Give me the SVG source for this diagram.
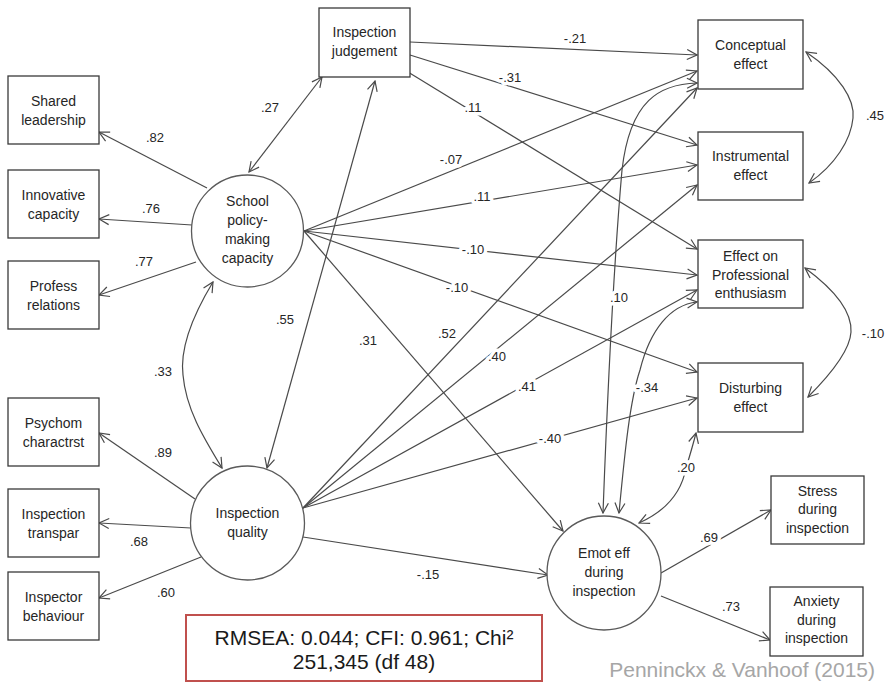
<svg xmlns="http://www.w3.org/2000/svg" width="890" height="684" viewBox="0 0 890 684">
<style>
  .box { fill: #fff; stroke: #3a3a3a; stroke-width: 1.3; }
  .circ { fill: #fff; stroke: #5a5a5a; stroke-width: 1.3; }
  .nt { font-family: "Liberation Sans", Arial, sans-serif; font-size: 14px; fill: #262626; text-anchor: middle; }
  .el { font-family: "Liberation Sans", Arial, sans-serif; font-size: 13px; fill: #262626; text-anchor: middle; paint-order: stroke; stroke: #fff; stroke-width: 7px; stroke-linejoin: round; }
  .ln { fill: none; stroke: #4a4a4a; stroke-width: 1.2; }
  .one { marker-end: url(#ah); }
  .two { marker-start: url(#ah); marker-end: url(#ah); }
  .fit { font-family: "Liberation Sans", Arial, sans-serif; font-size: 21px; fill: #1a1a1a; text-anchor: middle; }
  .cite { font-family: "Liberation Sans", Arial, sans-serif; font-size: 21px; fill: #a6a6a6; text-anchor: end; }
</style>
<defs>
  <marker id="ah" viewBox="0 0 12 12" refX="11" refY="6" markerWidth="12" markerHeight="12" markerUnits="userSpaceOnUse" orient="auto-start-reverse">
    <path d="M1,1 L11,6 L1,11" fill="none" stroke="#4a4a4a" stroke-width="1.2"/>
  </marker>
</defs>
<rect width="890" height="684" fill="#fff"/>

<g id="connectors">
  <!-- loadings left -->
  <line class="ln one" x1="207" y1="188" x2="99" y2="132"/>
  <line class="ln one" x1="192" y1="225" x2="99" y2="219"/>
  <line class="ln one" x1="196" y1="262" x2="99" y2="295"/>
  <line class="ln one" x1="195" y1="499" x2="99" y2="433"/>
  <line class="ln one" x1="191" y1="528" x2="99" y2="523"/>
  <line class="ln one" x1="201" y1="557" x2="99" y2="598"/>
  <!-- covariances left -->
  <line class="ln two" x1="249" y1="172" x2="322" y2="77"/>
  <line class="ln two" x1="375" y1="81" x2="267" y2="468"/>
  <path class="ln two" d="M213,282 C190,320 180,350 183,375 C186,410 205,440 222,468"/>
  <!-- from inspection judgement -->
  <line class="ln one" x1="410" y1="42" x2="697" y2="55"/>
  <line class="ln one" x1="410" y1="55" x2="697" y2="145"/>
  <line class="ln one" x1="408" y1="72" x2="697" y2="249"/>
  <!-- from school policy-making capacity -->
  <line class="ln one" x1="304" y1="231" x2="697" y2="71"/>
  <line class="ln one" x1="304" y1="231" x2="697" y2="165"/>
  <line class="ln one" x1="304" y1="231" x2="697" y2="275"/>
  <line class="ln one" x1="304" y1="231" x2="697" y2="372"/>
  <line class="ln one" x1="304" y1="231" x2="563" y2="531"/>
  <!-- from inspection quality -->
  <line class="ln one" x1="303" y1="508" x2="697" y2="88"/>
  <line class="ln one" x1="303" y1="508" x2="697" y2="185"/>
  <line class="ln one" x1="303" y1="508" x2="697" y2="290"/>
  <line class="ln one" x1="303" y1="508" x2="697" y2="398"/>
  <line class="ln one" x1="303" y1="537" x2="548" y2="575"/>
  <!-- emot eff covariances -->
  <path class="ln two" d="M603,513 C608,380 615,250 622,170 C630,100 660,84 697,83"/>
  <path class="ln two" d="M619,513 C625,450 630,400 640,370 C650,330 670,305 697,302"/>
  <path class="ln two" d="M639,523 C668,510 682,490 686,468 C690,455 693,445 696,433"/>
  <!-- emot eff loadings -->
  <line class="ln one" x1="661" y1="573" x2="771" y2="510"/>
  <line class="ln one" x1="661" y1="596" x2="770" y2="640"/>
  <!-- right covariances -->
  <path class="ln two" d="M806,52 C840,75 855,100 853,118 C851,140 835,165 809,183"/>
  <path class="ln two" d="M805,268 C835,290 852,312 851,332 C850,350 830,375 808,397"/>

  <g id="edge-labels">
    <text class="el" x="155" y="142">.82</text>
    <text class="el" x="151" y="213">.76</text>
    <text class="el" x="144" y="266">.77</text>
    <text class="el" x="163" y="457">.89</text>
    <text class="el" x="139" y="546">.68</text>
    <text class="el" x="166" y="597">.60</text>
    <text class="el" x="270" y="112">.27</text>
    <text class="el" x="285" y="324">.55</text>
    <text class="el" x="163" y="376">.33</text>
    <text class="el" x="575" y="43">-.21</text>
    <text class="el" x="510" y="82">-.31</text>
    <text class="el" x="473" y="112">.11</text>
    <text class="el" x="451" y="164">-.07</text>
    <text class="el" x="482" y="201">.11</text>
    <text class="el" x="473" y="254">-.10</text>
    <text class="el" x="457" y="292">-.10</text>
    <text class="el" x="368" y="345">.31</text>
    <text class="el" x="447" y="338">.52</text>
    <text class="el" x="497" y="361">.40</text>
    <text class="el" x="527" y="391">.41</text>
    <text class="el" x="550" y="443">-.40</text>
    <text class="el" x="428" y="579">-.15</text>
    <text class="el" x="619" y="302">.10</text>
    <text class="el" x="647" y="392">-.34</text>
    <text class="el" x="686" y="472">.20</text>
    <text class="el" x="709" y="542">.69</text>
    <text class="el" x="731" y="611">.73</text>
    <text class="el" x="875" y="120">.45</text>
    <text class="el" x="873" y="338">-.10</text>
  </g>
</g>

<g id="shared-leadership">
  <rect class="box" x="8" y="76" width="91" height="68"/>
  <text class="nt" x="53.5" y="105.5">Shared</text>
  <text class="nt" x="53.5" y="124.5">leadership</text>
</g>
<g id="innovative-capacity">
  <rect class="box" x="8" y="170" width="91" height="68"/>
  <text class="nt" x="53.5" y="199.5">Innovative</text>
  <text class="nt" x="53.5" y="218.5">capacity</text>
</g>
<g id="profess-relations">
  <rect class="box" x="8" y="261" width="91" height="68"/>
  <text class="nt" x="53.5" y="290.5">Profess</text>
  <text class="nt" x="53.5" y="309.5">relations</text>
</g>
<g id="psychom-charactrst">
  <rect class="box" x="8" y="398" width="91" height="68"/>
  <text class="nt" x="53.5" y="427.5">Psychom</text>
  <text class="nt" x="53.5" y="446.5">charactrst</text>
</g>
<g id="inspection-transpar">
  <rect class="box" x="8" y="489" width="91" height="68"/>
  <text class="nt" x="53.5" y="518.5">Inspection</text>
  <text class="nt" x="53.5" y="537.5">transpar</text>
</g>
<g id="inspector-behaviour">
  <rect class="box" x="8" y="572" width="91" height="68"/>
  <text class="nt" x="53.5" y="601.5">Inspector</text>
  <text class="nt" x="53.5" y="620.5">behaviour</text>
</g>

<g id="school-policy-making-capacity">
  <circle class="circ" cx="247.5" cy="231" r="56"/>
  <text class="nt" x="247.5" y="206">School</text>
  <text class="nt" x="247.5" y="225">policy-</text>
  <text class="nt" x="247.5" y="244">making</text>
  <text class="nt" x="247.5" y="263">capacity</text>
</g>
<g id="inspection-quality">
  <circle class="circ" cx="247.5" cy="523" r="57"/>
  <text class="nt" x="247.5" y="518">Inspection</text>
  <text class="nt" x="247.5" y="537">quality</text>
</g>

<g id="inspection-judgement">
  <rect class="box" x="319" y="8" width="91" height="69"/>
  <text class="nt" x="364.5" y="37">Inspection</text>
  <text class="nt" x="364.5" y="56">judgement</text>
</g>

<g id="conceptual-effect">
  <rect class="box" x="698" y="20" width="105" height="69"/>
  <text class="nt" x="750.5" y="50">Conceptual</text>
  <text class="nt" x="750.5" y="69">effect</text>
</g>
<g id="instrumental-effect">
  <rect class="box" x="698" y="132" width="105" height="68"/>
  <text class="nt" x="750.5" y="161">Instrumental</text>
  <text class="nt" x="750.5" y="180">effect</text>
</g>
<g id="effect-on-professional-enthusiasm">
  <rect class="box" x="698" y="240" width="105" height="68"/>
  <text class="nt" x="750.5" y="261">Effect on</text>
  <text class="nt" x="750.5" y="280">Professional</text>
  <text class="nt" x="750.5" y="298">enthusiasm</text>
</g>
<g id="disturbing-effect">
  <rect class="box" x="698" y="363" width="105" height="69"/>
  <text class="nt" x="750.5" y="393">Disturbing</text>
  <text class="nt" x="750.5" y="412">effect</text>
</g>

<g id="emot-eff-during-inspection">
  <circle class="circ" cx="604" cy="573" r="57"/>
  <text class="nt" x="604" y="558">Emot eff</text>
  <text class="nt" x="604" y="577">during</text>
  <text class="nt" x="604" y="596">inspection</text>
</g>
<g id="stress-during-inspection">
  <rect class="box" x="771" y="476" width="93" height="68"/>
  <text class="nt" x="817.5" y="496">Stress</text>
  <text class="nt" x="817.5" y="514">during</text>
  <text class="nt" x="817.5" y="533">inspection</text>
</g>
<g id="anxiety-during-inspection">
  <rect class="box" x="770" y="587" width="93" height="69"/>
  <text class="nt" x="816.5" y="606">Anxiety</text>
  <text class="nt" x="816.5" y="625">during</text>
  <text class="nt" x="816.5" y="643">inspection</text>
</g>

<g id="fit-indices">
  <rect x="186" y="615" width="356" height="66" fill="#fff" stroke="#c0504d" stroke-width="2"/>
  <text class="fit" x="364" y="645">RMSEA: 0.044; CFI: 0.961; Chi²</text>
  <text class="fit" x="364" y="669">251,345 (df 48)</text>
</g>
<g id="citation">
  <text class="cite" x="875" y="677">Penninckx &amp; Vanhoof (2015)</text>
</g>
</svg>
